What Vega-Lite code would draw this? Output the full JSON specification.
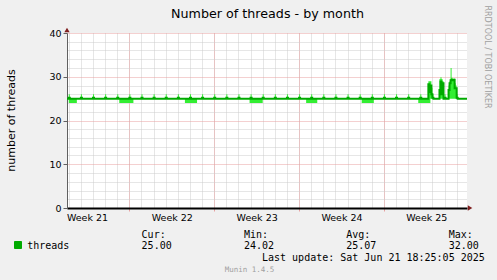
{
"$schema": "https://vega.github.io/schema/vega-lite/v6.json",
"width": 400,
"height": 175,
"autosize": {"type": "none"},
"padding": {"left": 67, "top": 33, "right": 30, "bottom": 72},
"background": "#f0f0f0",
"config": {
  "view": {"fill": "#ffffff", "stroke": null},
  "axis": {"labelFont": "DejaVu Sans", "titleFont": "DejaVu Sans", "titleFontWeight": "normal", "labelColor": "#000000", "titleColor": "#000000"}
},
"data": {"values": [
{"t":"2025-05-20T20:00Z","avg":25,"min":25,"max":25},
{"t":"2025-05-21T00:00Z","avg":25.2,"min":24.02,"max":26},
{"t":"2025-05-21T02:00Z","avg":25,"min":24.02,"max":25},
{"t":"2025-05-21T16:00Z","avg":25,"min":25,"max":25},
{"t":"2025-05-22T00:00Z","avg":25.2,"min":25,"max":26},
{"t":"2025-05-22T02:00Z","avg":25,"min":25,"max":25},
{"t":"2025-05-23T00:00Z","avg":25.2,"min":25,"max":26},
{"t":"2025-05-23T02:00Z","avg":25,"min":25,"max":25},
{"t":"2025-05-24T00:00Z","avg":25.2,"min":25,"max":26},
{"t":"2025-05-24T02:00Z","avg":25,"min":25,"max":25},
{"t":"2025-05-25T00:00Z","avg":25.2,"min":25,"max":26},
{"t":"2025-05-25T02:00Z","avg":25,"min":25,"max":25},
{"t":"2025-05-25T04:00Z","avg":25,"min":24.02,"max":25},
{"t":"2025-05-26T00:00Z","avg":25.2,"min":24.02,"max":26},
{"t":"2025-05-26T02:00Z","avg":25,"min":24.02,"max":25},
{"t":"2025-05-26T08:00Z","avg":25,"min":25,"max":25},
{"t":"2025-05-27T00:00Z","avg":25.2,"min":25,"max":26},
{"t":"2025-05-27T02:00Z","avg":25,"min":25,"max":25},
{"t":"2025-05-28T00:00Z","avg":25.2,"min":25,"max":26},
{"t":"2025-05-28T02:00Z","avg":25,"min":25,"max":25},
{"t":"2025-05-29T00:00Z","avg":25.2,"min":25,"max":26},
{"t":"2025-05-29T02:00Z","avg":25,"min":25,"max":25},
{"t":"2025-05-30T00:00Z","avg":25.2,"min":25,"max":26},
{"t":"2025-05-30T02:00Z","avg":25,"min":25,"max":25},
{"t":"2025-05-30T14:00Z","avg":25,"min":24.02,"max":25},
{"t":"2025-05-31T00:00Z","avg":25.2,"min":24.02,"max":26},
{"t":"2025-05-31T02:00Z","avg":25,"min":24.02,"max":25},
{"t":"2025-05-31T14:00Z","avg":25,"min":25,"max":25},
{"t":"2025-06-01T00:00Z","avg":25.2,"min":25,"max":26},
{"t":"2025-06-01T02:00Z","avg":25,"min":25,"max":25},
{"t":"2025-06-02T00:00Z","avg":25.2,"min":25,"max":26},
{"t":"2025-06-02T02:00Z","avg":25,"min":25,"max":25},
{"t":"2025-06-03T00:00Z","avg":25.2,"min":25,"max":26},
{"t":"2025-06-03T02:00Z","avg":25,"min":25,"max":25},
{"t":"2025-06-04T00:00Z","avg":25.2,"min":25,"max":26},
{"t":"2025-06-04T02:00Z","avg":25,"min":25,"max":25},
{"t":"2025-06-04T22:00Z","avg":25,"min":24.02,"max":25},
{"t":"2025-06-05T00:00Z","avg":25.2,"min":24.02,"max":26},
{"t":"2025-06-05T02:00Z","avg":25,"min":24.02,"max":25},
{"t":"2025-06-06T00:00Z","avg":25.2,"min":25,"max":26},
{"t":"2025-06-06T02:00Z","avg":25,"min":25,"max":25},
{"t":"2025-06-07T00:00Z","avg":25.2,"min":25,"max":26},
{"t":"2025-06-07T02:00Z","avg":25,"min":25,"max":25},
{"t":"2025-06-08T00:00Z","avg":25.2,"min":25,"max":26},
{"t":"2025-06-08T02:00Z","avg":25,"min":25,"max":25},
{"t":"2025-06-09T00:00Z","avg":25.2,"min":25,"max":26},
{"t":"2025-06-09T02:00Z","avg":25,"min":25,"max":25},
{"t":"2025-06-09T14:00Z","avg":25,"min":24.02,"max":25},
{"t":"2025-06-10T00:00Z","avg":25.2,"min":24.02,"max":26},
{"t":"2025-06-10T02:00Z","avg":25,"min":24.02,"max":25},
{"t":"2025-06-10T12:00Z","avg":25,"min":25,"max":25},
{"t":"2025-06-11T00:00Z","avg":25.2,"min":25,"max":26},
{"t":"2025-06-11T02:00Z","avg":25,"min":25,"max":25},
{"t":"2025-06-12T00:00Z","avg":25.2,"min":25,"max":26},
{"t":"2025-06-12T02:00Z","avg":25,"min":25,"max":25},
{"t":"2025-06-13T00:00Z","avg":25.2,"min":25,"max":26},
{"t":"2025-06-13T02:00Z","avg":25,"min":25,"max":25},
{"t":"2025-06-14T00:00Z","avg":25.2,"min":25,"max":26},
{"t":"2025-06-14T02:00Z","avg":25,"min":25,"max":25},
{"t":"2025-06-14T04:00Z","avg":25,"min":24.02,"max":25},
{"t":"2025-06-15T00:00Z","avg":25.2,"min":24.02,"max":26},
{"t":"2025-06-15T02:00Z","avg":25,"min":24.02,"max":25},
{"t":"2025-06-15T04:00Z","avg":25,"min":25,"max":25},
{"t":"2025-06-16T00:00Z","avg":25.2,"min":25,"max":26},
{"t":"2025-06-16T02:00Z","avg":25,"min":25,"max":25},
{"t":"2025-06-17T00:00Z","avg":25.2,"min":25,"max":26},
{"t":"2025-06-17T02:00Z","avg":25,"min":25,"max":25},
{"t":"2025-06-18T00:00Z","avg":25.2,"min":25,"max":26},
{"t":"2025-06-18T02:00Z","avg":25,"min":25,"max":25},
{"t":"2025-06-18T20:00Z","avg":25,"min":24.02,"max":25},
{"t":"2025-06-19T00:00Z","avg":25.2,"min":24.02,"max":26},
{"t":"2025-06-19T02:00Z","avg":25,"min":24.02,"max":25},
{"t":"2025-06-19T16:00Z","avg":28.3,"min":24.02,"max":29},
{"t":"2025-06-19T18:00Z","avg":26.5,"min":24.02,"max":29},
{"t":"2025-06-19T20:00Z","avg":28,"min":25,"max":29},
{"t":"2025-06-19T22:00Z","avg":26,"min":25,"max":27.5},
{"t":"2025-06-20T00:00Z","avg":25.2,"min":25,"max":26},
{"t":"2025-06-20T02:00Z","avg":25,"min":25,"max":25},
{"t":"2025-06-20T14:00Z","avg":27,"min":25,"max":29.5},
{"t":"2025-06-20T16:00Z","avg":28.9,"min":25,"max":29.9},
{"t":"2025-06-20T18:00Z","avg":26,"min":25,"max":29.5},
{"t":"2025-06-20T20:00Z","avg":28.5,"min":25,"max":29},
{"t":"2025-06-20T22:00Z","avg":25,"min":25,"max":25},
{"t":"2025-06-21T00:00Z","avg":25.2,"min":25,"max":26},
{"t":"2025-06-21T02:00Z","avg":25,"min":25,"max":25},
{"t":"2025-06-21T08:00Z","avg":27,"min":25,"max":28},
{"t":"2025-06-21T10:00Z","avg":28.5,"min":25,"max":29},
{"t":"2025-06-21T12:00Z","avg":29.2,"min":25,"max":32},
{"t":"2025-06-21T14:00Z","avg":29.3,"min":25,"max":29.8},
{"t":"2025-06-21T16:00Z","avg":29.2,"min":25,"max":29.5},
{"t":"2025-06-21T18:00Z","avg":29.3,"min":25,"max":29.6},
{"t":"2025-06-21T20:00Z","avg":27.4,"min":25,"max":28.5},
{"t":"2025-06-21T22:00Z","avg":27.4,"min":25,"max":28},
{"t":"2025-06-22T00:00Z","avg":25.2,"min":25,"max":26},
{"t":"2025-06-22T02:00Z","avg":25,"min":25,"max":25},
{"t":"2025-06-22T22:00Z","avg":25,"min":25,"max":25}
]},
"layer": [
 {
  "mark": {"type": "area", "interpolate": "step-after", "color": "#33ee33", "opacity": 1, "clip": true},
  "encoding": {
    "x": {"field": "t", "type": "temporal",
      "scale": {"type": "utc", "domain": [{"year":2025,"month":5,"date":20,"hours":20,"minutes":30,"utc":true},{"year":2025,"month":6,"date":22,"hours":20,"minutes":30,"utc":true}]},
      "axis": {"orient": "bottom", "tickCount": {"interval": "day", "step": 1}, "grid": true, "gridColor": "#cccccc", "gridDash": [1,1], "labels": false, "ticks": false, "domain": false,
        "title": "Munin 1.4.5", "titleFont": "DejaVu Sans Mono", "titleFontSize": 7.5, "titleColor": "#a0a0a0", "titleX": 182, "titleY": 63.7, "titleBaseline": "alphabetic", "titleAlign": "center"}},
    "y": {"field": "min", "type": "quantitative", "scale": {"domain": [0, 40], "nice": false, "zero": true},
      "axis": {"orient": "left", "values": [2,4,6,8,12,14,16,18,22,24,26,28,32,34,36,38], "grid": true, "gridColor": "#cccccc", "gridDash": [1,1], "labels": false, "ticks": false, "domain": false, "title": null}},
    "y2": {"field": "max"}
  }
 },
 {
  "mark": {"type": "line", "interpolate": "step-after", "strokeWidth": 2, "clip": true},
  "encoding": {
    "x": {"field": "t", "type": "temporal",
      "scale": {"type": "utc", "domain": [{"year":2025,"month":5,"date":20,"hours":20,"minutes":30,"utc":true},{"year":2025,"month":6,"date":22,"hours":20,"minutes":30,"utc":true}]},
      "axis": {"orient": "bottom", "values": [{"year":2025,"month":5,"date":26,"utc":true},{"year":2025,"month":6,"date":2,"utc":true},{"year":2025,"month":6,"date":9,"utc":true},{"year":2025,"month":6,"date":16,"utc":true}],
        "grid": true, "gridColor": "#e8a0a0", "gridDash": [1,1], "labels": false, "ticks": true, "tickColor": "#e8a0a0", "tickSize": 3, "domain": false, "title": null}},
    "y": {"field": "avg", "type": "quantitative", "scale": {"domain": [0, 40], "nice": false, "zero": true},
      "axis": {"orient": "left", "values": [0,10,20,30,40], "grid": true, "gridColor": "#e8a0a0", "gridDash": [1,1], "domain": true, "domainColor": "#606060", "ticks": true, "tickColor": "#606060", "tickSize": 4, "labelPadding": 2, "labelFontSize": 9.5,
        "title": "number of threads", "titleFontSize": 11, "titleX": -56, "titleY": 87, "titleAngle": 270, "titleAlign": "center", "titleBaseline": "middle"}},
    "color": {"datum": "threads", "type": "nominal", "scale": {"range": ["#00aa00"]},
      "legend": {"orient": "none", "legendX": -54, "legendY": 207, "title": null, "symbolType": "square", "symbolSize": 49, "labelExpr": "''", "padding": 0,
        "encode": {"symbols": {"update": {"fill": {"value": "#00aa00"}, "stroke": {"value": "#000000"}, "strokeWidth": {"value": 1}, "opacity": {"value": 1}}}}}}
  }
 },
 {
  "data": {"values": [{}]},
  "mark": {"type": "point", "shape": "triangle-right", "filled": true, "color": "#7f1f1f", "size": 28, "opacity": 1, "clip": false},
  "encoding": {
    "x": {"datum": {"year":2025,"month":6,"date":23,"hours":2,"minutes":30,"utc":true}, "type": "temporal",
      "scale": {"type": "utc", "domain": [{"year":2025,"month":5,"date":20,"hours":20,"minutes":30,"utc":true},{"year":2025,"month":6,"date":22,"hours":20,"minutes":30,"utc":true}]},
      "axis": {"orient": "bottom", "values": [{"year":2025,"month":5,"date":22,"hours":12,"utc":true},{"year":2025,"month":5,"date":29,"hours":12,"utc":true},{"year":2025,"month":6,"date":5,"hours":12,"utc":true},{"year":2025,"month":6,"date":12,"hours":12,"utc":true},{"year":2025,"month":6,"date":19,"hours":12,"utc":true}],
        "labelExpr": "'Week ' + utcFormat(datum.value, '%V')", "grid": false, "ticks": false, "domain": true, "domainColor": "#000000", "domainWidth": 2,
        "labelFontSize": 9.5, "labelPadding": 12, "labelBaseline": "alphabetic", "labelAlign": "center", "labelFlush": false, "labelOverlap": false,
        "title": ["\u200b\u00a0\u00a0\u00a0\u00a0\u00a0\u00a0\u00a0\u00a0\u00a0\u00a0\u00a0\u00a0\u00a0\u00a0\u00a0\u00a0\u00a0\u00a0\u00a0Cur:\u00a0\u00a0\u00a0\u00a0\u00a0\u00a0\u00a0\u00a0\u00a0\u00a0\u00a0\u00a0\u00a0Min:\u00a0\u00a0\u00a0\u00a0\u00a0\u00a0\u00a0\u00a0\u00a0\u00a0\u00a0\u00a0\u00a0Avg:\u00a0\u00a0\u00a0\u00a0\u00a0\u00a0\u00a0\u00a0\u00a0\u00a0\u00a0\u00a0\u00a0Max:",
                  "threads\u00a0\u00a0\u00a0\u00a0\u00a0\u00a0\u00a0\u00a0\u00a0\u00a0\u00a0\u00a025.00\u00a0\u00a0\u00a0\u00a0\u00a0\u00a0\u00a0\u00a0\u00a0\u00a0\u00a0\u00a024.02\u00a0\u00a0\u00a0\u00a0\u00a0\u00a0\u00a0\u00a0\u00a0\u00a0\u00a0\u00a025.07\u00a0\u00a0\u00a0\u00a0\u00a0\u00a0\u00a0\u00a0\u00a0\u00a0\u00a0\u00a032.00",
                  "\u200b\u00a0\u00a0\u00a0\u00a0\u00a0\u00a0\u00a0\u00a0\u00a0\u00a0\u00a0\u00a0\u00a0\u00a0\u00a0\u00a0\u00a0\u00a0\u00a0\u00a0\u00a0\u00a0\u00a0\u00a0\u00a0\u00a0\u00a0\u00a0\u00a0\u00a0\u00a0\u00a0\u00a0\u00a0\u00a0\u00a0\u00a0\u00a0\u00a0Last update: Sat Jun 21 18:25:05 2025"],
        "titleFont": "DejaVu Sans Mono", "titleFontSize": 10, "titleX": -40.3, "titleY": 29.3, "titleAlign": "left", "titleBaseline": "alphabetic", "titleLineHeight": 11.6}},
    "y": {"datum": 0, "type": "quantitative", "scale": {"domain": [0, 40], "nice": false, "zero": true},
      "axis": {"orient": "right", "labels": false, "ticks": false, "domain": false, "grid": false,
        "title": "RRDTOOL / TOBI OETIKER", "titleFontSize": 8, "titleColor": "#a0a0a0", "titleAngle": 90, "titleX": 19.5, "titleY": -28, "titleAlign": "left", "titleBaseline": "middle"}}
  }
 },
 {
  "data": {"values": [{}]},
  "mark": {"type": "point", "shape": "triangle-up", "filled": true, "color": "#7f1f1f", "size": 28, "opacity": 1, "clip": false},
  "encoding": {
    "x": {"datum": {"year":2025,"month":5,"date":20,"hours":20,"minutes":30,"utc":true}, "type": "temporal",
      "scale": {"type": "utc", "domain": [{"year":2025,"month":5,"date":20,"hours":20,"minutes":30,"utc":true},{"year":2025,"month":6,"date":22,"hours":20,"minutes":30,"utc":true}]},
      "axis": {"orient": "top", "labels": false, "ticks": false, "domain": false, "grid": false,
        "title": "Number of threads - by month", "titleFontSize": 12.7, "titleX": 200, "titleY": -15.3, "titleAlign": "center", "titleBaseline": "alphabetic"}},
    "y": {"datum": 40.7, "type": "quantitative", "scale": {"domain": [0, 40], "nice": false, "zero": true}, "axis": null}
  }
 }
],
"resolve": {"axis": {"x": "independent", "y": "independent"}}
}
